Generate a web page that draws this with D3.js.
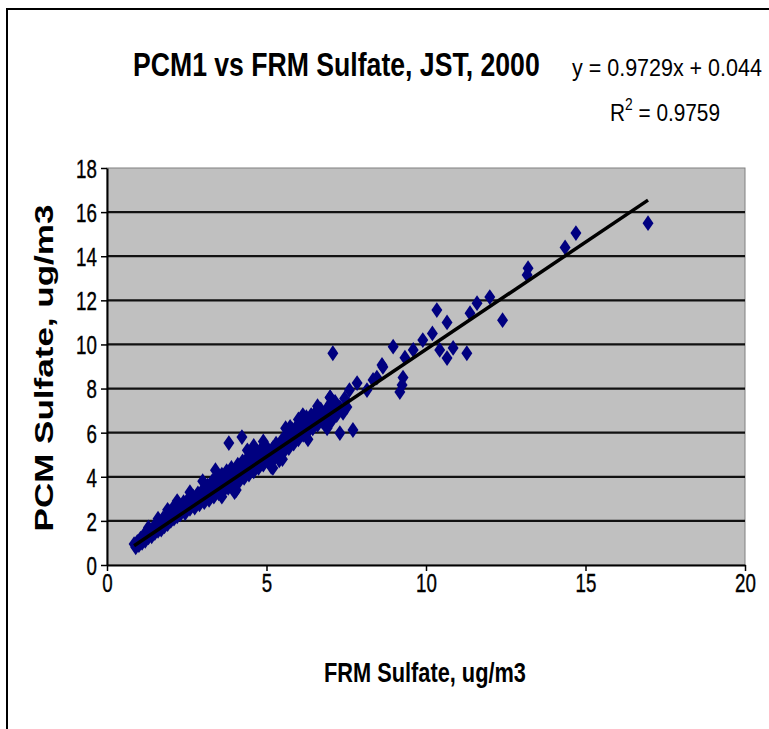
<!DOCTYPE html>
<html>
<head>
<meta charset="utf-8">
<script src="https://cdn.jsdelivr.net/npm/d3@7"></script>
<style>
  body { margin: 0; background: #fff; }
  text { font-family: "Liberation Sans", Arial, sans-serif; }
</style>
</head>
<body>
<script>
// FRM sulfate (x) vs PCM1 sulfate (y), ug/m3
const frm = [
  0.85, 0.90, 0.95, 1.00, 1.05, 1.10, 1.15, 1.20, 1.25, 1.30, 1.35, 1.40, 1.45, 1.50, 1.55, 1.60,
  1.65, 1.70, 1.75, 1.80, 1.85, 1.90, 1.95, 2.00, 2.05, 2.10, 2.15, 2.20, 2.25, 2.30, 2.35, 2.40,
  2.45, 2.50, 2.55, 2.60, 2.65, 2.70, 2.75, 2.80, 2.85, 2.90, 2.95, 3.00, 3.05, 3.10, 3.15, 3.20,
  3.25, 3.30, 3.35, 3.40, 3.45, 3.50, 3.55, 3.60, 3.65, 3.70, 3.75, 3.80, 3.85, 3.90, 3.95, 4.00,
  4.05, 4.10, 4.15, 4.20, 4.25, 4.30, 4.35, 4.40, 4.45, 4.50, 4.55, 4.60, 4.65, 4.70, 4.75, 4.80,
  4.85, 4.90, 4.95, 5.00, 5.05, 5.10, 5.15, 5.20, 5.25, 5.30, 5.35, 5.40, 5.45, 5.50, 5.55, 5.60,
  5.65, 5.70, 5.75, 5.80, 5.85, 5.90, 5.95, 6.00, 6.05, 6.10, 6.15, 6.20, 6.25, 6.30, 6.35, 6.40,
  6.45, 6.50, 6.55, 6.60, 6.65, 6.70, 6.75, 6.80, 6.85, 6.90, 6.95, 7.00, 7.05, 7.10, 7.15, 7.20,
  7.30, 7.40, 7.45,
  1.30, 1.60, 1.90, 2.20, 2.60, 3.00, 3.40, 3.60, 4.00, 4.40, 4.60, 4.90, 5.20, 5.50, 5.60, 6.00,
  6.30, 6.60, 6.90, 7.00,
  3.82, 4.23, 7.08, 7.30, 7.71, 6.99, 7.52, 7.60, 7.84, 6.68, 6.14, 5.74, 8.15, 8.34, 8.46, 8.62,
  8.65, 8.97, 9.25, 9.18, 9.34, 9.28, 9.60, 9.90, 10.2, 10.34, 10.43, 10.66, 10.66, 10.85, 11.28,
  11.38, 11.60, 12.0, 12.4, 13.17, 13.2, 14.36, 14.7, 16.96
];
const pcm = [
  0.95, 0.80, 1.05, 0.90, 1.20, 1.00, 1.35, 1.10, 1.45, 1.25, 1.55, 1.30, 1.70, 1.45, 1.85, 1.55,
  1.95, 1.60, 2.10, 1.75, 2.25, 1.85, 2.40, 2.00, 2.55, 2.10, 2.60, 2.20, 2.75, 2.30, 2.55, 2.85,
  2.35, 2.65, 3.00, 2.55, 2.85, 3.10, 2.60, 2.95, 3.25, 2.75, 3.05, 3.40, 2.85, 3.20, 3.60, 2.95,
  3.40, 3.80, 3.10, 3.55, 4.00, 3.25, 3.70, 4.10, 3.35, 3.85, 4.25, 3.50, 3.95, 4.40, 3.60, 4.10,
  3.40, 4.55, 3.80, 4.30, 4.70, 3.95, 4.45, 4.85, 4.10, 4.60, 5.00, 4.25, 4.75, 5.15, 4.40, 4.90,
  5.30, 4.55, 5.05, 5.35, 4.70, 5.15, 4.45, 5.30, 4.85, 5.50, 5.05, 4.75, 5.45, 5.70, 5.15, 5.55,
  5.90, 5.30, 5.75, 6.15, 5.50, 5.95, 6.30, 5.70, 6.15, 6.55, 5.90, 6.35, 6.70, 6.05, 6.50, 6.80,
  6.20, 6.60, 6.95, 6.35, 6.75, 7.05, 6.50, 6.85, 6.40, 7.10, 6.70, 7.30, 6.55, 6.95, 7.40, 6.80,
  7.15, 6.90, 7.55,
  1.70, 2.10, 2.50, 2.90, 3.30, 3.80, 4.30, 3.10, 3.30, 5.20, 5.40, 5.60, 4.40, 4.80, 6.20, 6.60,
  5.70, 7.20, 6.20, 7.60,
  5.53, 5.80, 9.60, 5.98, 6.12, 7.60, 7.16, 7.93, 8.25, 7.00, 6.80, 6.26, 7.93, 8.39, 8.50, 9.07,
  8.98, 9.90, 8.16, 7.84, 9.40, 8.50, 9.75, 10.2, 10.5, 11.56, 9.75, 11.0, 9.38, 9.84, 9.60,
  11.42, 11.87, 12.15, 11.1, 13.15, 13.46, 14.4, 15.05, 15.5
];
const xTicks = [0, 5, 10, 15, 20];
const yTicks = [0, 2, 4, 6, 8, 10, 12, 14, 16, 18];
const slope = 0.9729, intercept = 0.044;

const points = frm.map((d, i) => ({ x: d, y: pcm[i] }));

const width = 769, height = 729;
const svg = d3.select("body").append("svg")
  .attr("width", width)
  .attr("height", height);

// outer chart frame (runs off the right and bottom of the picture)
svg.append("rect")
  .attr("x", 7).attr("y", 9)
  .attr("width", 800).attr("height", 800)
  .attr("fill", "none")
  .attr("stroke", "#000")
  .attr("stroke-width", 2);

const x = d3.scaleLinear().domain([0, 20]).range([107, 745]);
const y = d3.scaleLinear().domain([0, 18]).range([565, 168]);

// plot area
svg.append("rect")
  .attr("x", x(0)).attr("y", y(18))
  .attr("width", x(20) - x(0)).attr("height", y(0) - y(18))
  .attr("fill", "#c0c0c0")
  .attr("stroke", "#808080")
  .attr("stroke-width", 1);

// gridlines
svg.append("g")
  .selectAll("line")
  .data(yTicks.filter(d => d > 0 && d < 18))
  .join("line")
  .attr("x1", x(0)).attr("x2", x(20))
  .attr("y1", d => y(d)).attr("y2", d => y(d))
  .attr("stroke", "#111")
  .attr("stroke-width", 2.2);

// axes
const yAxis = svg.append("g")
  .attr("transform", `translate(${x(0)},0)`)
  .call(d3.axisLeft(y).tickValues(yTicks).tickSize(6).tickSizeOuter(0));
const xAxis = svg.append("g")
  .attr("transform", `translate(0,${y(0)})`)
  .call(d3.axisBottom(x).tickValues(xTicks).tickSize(6).tickSizeOuter(0));

[yAxis, xAxis].forEach(g => {
  g.attr("font-size", 26).attr("font-family", "'Liberation Sans', Arial, sans-serif");
  g.select(".domain").attr("stroke", "#000").attr("stroke-width", 2);
  g.selectAll(".tick line").attr("stroke", "#000").attr("stroke-width", 1.5);
  g.selectAll("text").attr("fill", "#000")
    .attr("stroke", "#000").attr("stroke-width", 0.4);
});
yAxis.selectAll("text").attr("x", -14).attr("dy", "0.36em").attr("transform", "scale(0.72,1)");
xAxis.selectAll("text").attr("y", 9).attr("transform", "scale(0.72,1)");

// points
const diamond = d3.symbol().type(d3.symbolDiamond).size(72);
svg.append("g")
  .selectAll("path")
  .data(points)
  .join("path")
  .attr("d", diamond)
  .attr("transform", d => `translate(${x(d.x)},${y(d.y)}) scale(1.2,1)`)
  .attr("fill", "#000080");

// linear trendline
const xr = d3.extent(frm);
svg.append("line")
  .attr("x1", x(xr[0])).attr("y1", y(slope * xr[0] + intercept))
  .attr("x2", x(xr[1])).attr("y2", y(slope * xr[1] + intercept))
  .attr("stroke", "#000")
  .attr("stroke-width", 3.5);

// squeeze a text horizontally so it spans w pixels
function squeeze(t, px, py, w, rot) {
  const k = w / t.node().getComputedTextLength();
  t.attr("transform", rot
    ? `translate(${px},${py}) rotate(-90) scale(${k},1)`
    : `translate(${px},${py}) scale(${k},1)`);
}

const title = svg.append("text")
  .attr("font-size", 34).attr("font-weight", "bold")
  .text("PCM1 vs FRM Sulfate, JST, 2000");
squeeze(title, 133, 76, 407);

const eq = svg.append("text")
  .attr("font-size", 24)
  .text("y = 0.9729x + 0.044");
squeeze(eq, 572, 76, 190);

const r2 = svg.append("text").attr("font-size", 24);
r2.append("tspan").text("R");
r2.append("tspan").attr("dy", -11).attr("font-size", 16).text("2");
r2.append("tspan").attr("dy", 11).text(" = 0.9759");
squeeze(r2, 610, 121, 110);

const xLabel = svg.append("text")
  .attr("text-anchor", "middle")
  .attr("font-size", 27).attr("font-weight", "bold")
  .text("FRM Sulfate, ug/m3");
squeeze(xLabel, 425, 682, 202);

const yLabel = svg.append("text")
  .attr("text-anchor", "middle")
  .attr("font-size", 25).attr("font-weight", "bold")
  .text("PCM Sulfate, ug/m3");
squeeze(yLabel, 53, 368, 327, true);
</script>
</body>
</html>
